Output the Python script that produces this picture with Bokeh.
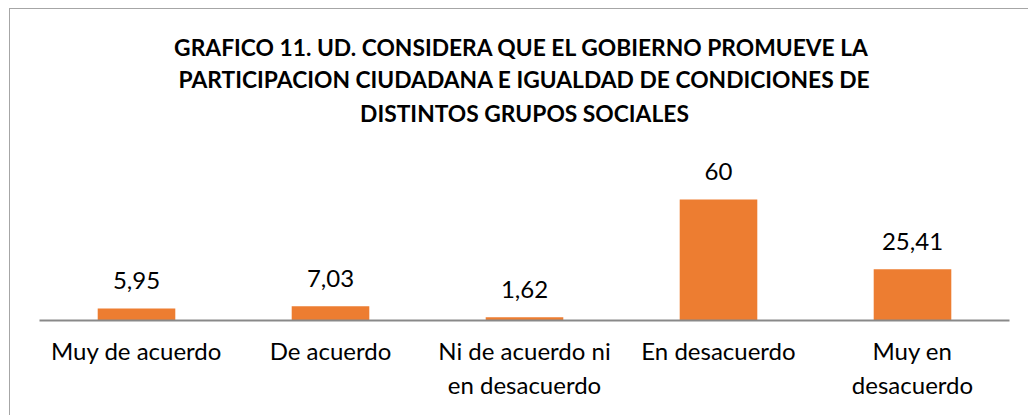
from bokeh.plotting import figure
from bokeh.models import ColumnDataSource, LabelSet, Title, Range1d
from bokeh.core.properties import value
from bokeh.embed import file_html
from bokeh.resources import INLINE

categories = ["Muy de acuerdo", "De acuerdo", "Ni de acuerdo ni\nen desacuerdo",
              "En desacuerdo", "Muy en\ndesacuerdo"]
values = [5.95, 7.03, 1.62, 60, 25.41]
value_labels = ["5,95", "7,03", "1,62", "60", "25,41"]
title_lines = [
    "GRAFICO 11.  UD. CONSIDERA QUE EL GOBIERNO PROMUEVE LA",
    "PARTICIPACION CIUDADANA E IGUALDAD DE CONDICIONES DE",
    "DISTINTOS GRUPOS SOCIALES",
]

FONT = "Lato"
BAR = "#ED7D31"

src = ColumnDataSource(dict(cat=categories, val=values, lbl=value_labels))

p = figure(width=1019, height=407, x_range=categories, y_range=Range1d(0, 94.2),
           output_backend="svg", toolbar_location=None, y_axis_location=None,
           min_border_left=29, min_border_right=20, min_border_top=121,
           min_border_bottom=96)
p.styles = {"margin-left": "9px", "margin-top": "8px",
            "border-left": "1px solid #A6A6A6", "border-top": "1px solid #A6A6A6"}
p.outline_line_color = None
p.xgrid.grid_line_color = None
p.ygrid.grid_line_color = None

p.vbar(x="cat", top="val", width=0.4, source=src, fill_color=BAR, line_color=None)

labels = LabelSet(x="cat", y="val", text="lbl", source=src, text_align="center",
                  text_baseline="alphabetic", y_offset=19,
                  text_font=value(FONT), text_font_size="24px", text_color="#000000")
p.add_layout(labels)

ax = p.xaxis[0]
ax.axis_line_color = "#898989"
ax.axis_line_width = 2
ax.major_tick_line_color = None
ax.minor_tick_line_color = None
ax.major_label_text_font = FONT
ax.major_label_text_font_size = "24px"
ax.major_label_text_color = "#000000"
ax.major_label_standoff = 9

standoffs = [2, 2, 7]  # line 1, line 2, line 3 (line 3 nearest the frame)
for line, so in reversed(list(zip(title_lines, standoffs))):
    t = Title(text=line, align="center", text_font=FONT, text_font_size="22.8px",
              text_font_style="bold", text_color="#000000", standoff=so)
    p.add_layout(t, "above")

open("out.html", "w").write(file_html(p, INLINE))
